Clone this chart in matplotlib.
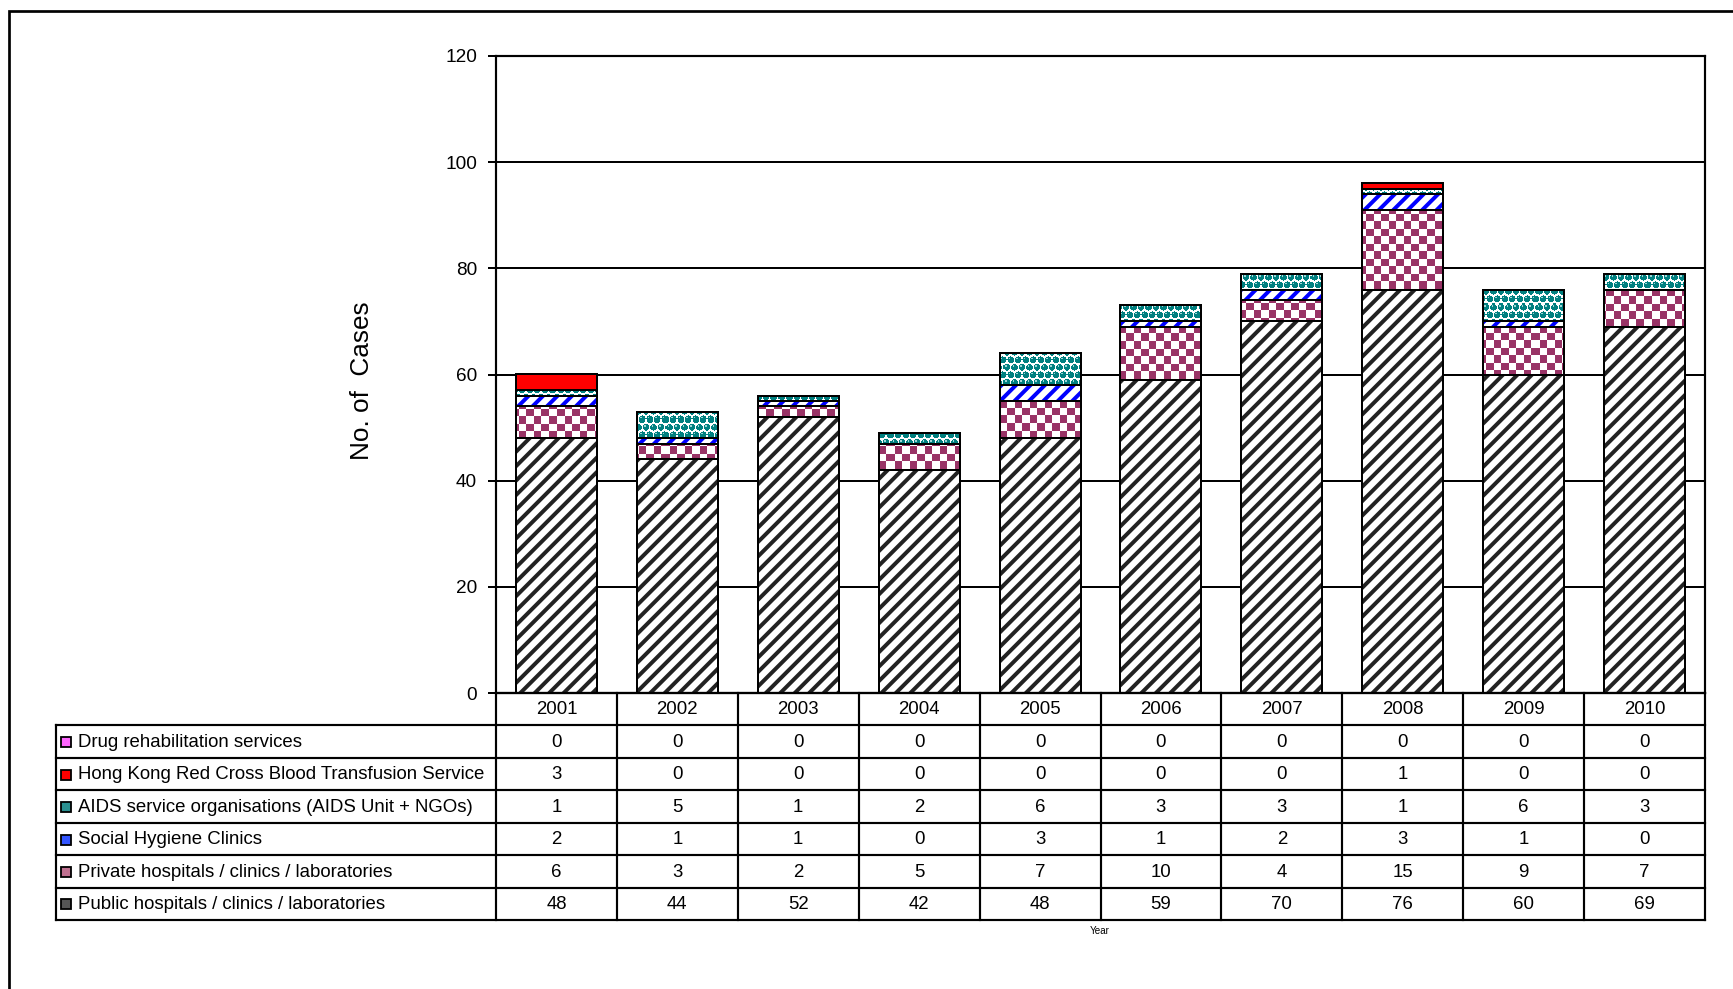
import numpy as np
import matplotlib.pyplot as plt
from matplotlib.colors import to_rgb
from matplotlib.patches import Rectangle

years = ['2001', '2002', '2003', '2004', '2005', '2006', '2007', '2008', '2009', '2010']
public = [48, 44, 52, 42, 48, 59, 70, 76, 60, 69]
private = [6, 3, 2, 5, 7, 10, 4, 15, 9, 7]
social_hygiene = [2, 1, 1, 0, 3, 1, 2, 3, 1, 0]
aids_orgs = [1, 5, 1, 2, 6, 3, 3, 1, 6, 3]
red_cross = [3, 0, 0, 0, 0, 0, 0, 1, 0, 0]
drug_rehab = [0, 0, 0, 0, 0, 0, 0, 0, 0, 0]

row_labels = ['Drug rehabilitation services',
              'Hong Kong Red Cross Blood Transfusion Service',
              'AIDS service organisations (AIDS Unit + NGOs)',
              'Social Hygiene Clinics',
              'Private hospitals / clinics / laboratories',
              'Public hospitals / clinics / laboratories']
row_values = [drug_rehab, red_cross, aids_orgs, social_hygiene, private, public]

plt.rcParams['font.family'] = ['Liberation Sans', 'DejaVu Sans']
plt.rcParams['hatch.linewidth'] = 2.2

W, H, DPI = 1733, 989, 130
fig = plt.figure(figsize=(W / DPI, H / DPI), dpi=DPI)


def px_box(l, t, r, b):
    return [l / W, 1 - b / H, (r - l) / W, (b - t) / H]


AX_L, AX_T, AX_R, AX_B = 496, 56, 1705, 693
ax = fig.add_axes(px_box(AX_L, AX_T, AX_R, AX_B))
ih, iw = AX_B - AX_T, AX_R - AX_L


# texture images for the patterned series
def checker(c1, c2, cell=7.5):
    yy, xx = np.mgrid[0:ih, 0:iw]
    m = ((yy // cell + xx // cell) % 2).astype(bool)
    img = np.empty((ih, iw, 3))
    img[:] = to_rgb(c2)
    img[m] = to_rgb(c1)
    return img


def bubbles(c, period=7.5, r=3.3):
    yy, xx = np.mgrid[0:ih, 0:iw] + 0.5
    row = np.floor(yy / period)
    xs = xx + (row % 2) * period / 2
    dx = (xs % period) - period / 2
    dy = (yy % period) - period / 2
    img = np.ones((ih, iw, 3))
    img[np.hypot(dx, dy) < r] = to_rgb(c)
    img[np.hypot(dx + 1.2, dy + 1.2) < 0.9] = to_rgb('#9fd6d6')
    return img


checker_img = checker('#993366', 'white')
bubble_img = bubbles('#008080')

x = np.arange(len(years))
bw = 0.67
bottom = np.zeros(len(years))

series = [
    (public, 'hatch', '#222222'),
    (private, 'image', checker_img),
    (social_hygiene, 'hatch', '#0000ff'),
    (aids_orgs, 'image', bubble_img),
    (red_cross, 'solid', '#ff0000'),
    (drug_rehab, 'solid', '#ff00ff'),
]

for vals, kind, style in series:
    vals = np.array(vals, dtype=float)
    m = vals > 0
    if m.any():
        if kind == 'hatch':
            ax.bar(x[m], vals[m], bw, bottom=bottom[m], facecolor='white',
                   edgecolor=style, linewidth=0, hatch='///', zorder=2)
        elif kind == 'image':
            bars = ax.bar(x[m], vals[m], bw, bottom=bottom[m], facecolor='white',
                          linewidth=0, zorder=2)
            for rect in bars:
                im = ax.imshow(style, extent=(-0.5, 9.5, 0, 120), aspect='auto',
                               interpolation='nearest', zorder=2.5)
                im.set_clip_path(rect)
        fc = style if kind == 'solid' else 'none'
        ax.bar(x[m], vals[m], bw, bottom=bottom[m], facecolor=fc,
               edgecolor='black', linewidth=1.1, zorder=3)
    bottom += vals

ax.set_xlim(-0.5, 9.5)
ax.set_ylim(0, 120)
ax.set_aspect('auto')
ax.set_xticks([])
ax.set_yticks(range(0, 121, 20))
ax.tick_params(axis='y', length=4.4, width=1.1, pad=6, labelsize=10.5)
ax.set_axisbelow(True)
ax.yaxis.grid(True, color='black', linewidth=1.1)
for s in ax.spines.values():
    s.set_linewidth(1.2)

fig.text(362 / W, 1 - 381 / H, 'No. of  Cases', rotation=90, fontsize=14.5,
         ha='center', va='center')

# data table below the chart
TB_L, TB_B = 56, 920
tax = fig.add_axes(px_box(TB_L, AX_B, AX_R, TB_B))
ppu = iw / 10
tl = -0.5 - (AX_L - TB_L) / ppu
tax.set_xlim(tl, 9.5)
tax.set_ylim(7, 0)
tax.axis('off')

lw = 1.2
tax.plot([-0.5, 9.5], [0, 0], color='black', lw=lw, clip_on=False)
for r in range(1, 8):
    tax.plot([tl, 9.5], [r, r], color='black', lw=lw, clip_on=False)
for k in range(11):
    tax.plot([k - 0.5, k - 0.5], [0, 7], color='black', lw=lw, clip_on=False)
tax.plot([tl, tl], [1, 7], color='black', lw=lw, clip_on=False)

fs = 10.3
for i, yr in enumerate(years):
    tax.text(i, 0.52, yr, ha='center', va='center', fontsize=fs)

icon_colors = ['#ff66ff', '#ff0000', '#2a9090', '#3355ff', '#c07090', '#555555']
iw_u = 10 / ppu
ih_u = 10 / ((TB_B - AX_B) / 7)
for r, (lab, vals) in enumerate(zip(row_labels, row_values)):
    yc = r + 1.52
    tax.add_patch(Rectangle((tl + 5 / ppu, yc - ih_u / 2), iw_u, ih_u,
                            edgecolor='black', linewidth=1.0,
                            facecolor=icon_colors[r], clip_on=False))
    tax.text(tl + 22 / ppu, yc, lab, ha='left', va='center', fontsize=fs)
    for i, v in enumerate(vals):
        tax.text(i, yc, str(v), ha='center', va='center', fontsize=fs)

fig.text(1100 / W, 1 - 931 / H, 'Year', fontsize=5.5, ha='center', va='center')

# outer frame
fig.patches.append(Rectangle((8.5 / W, -0.05), 1.1, 1 + 0.05 - 11 / H,
                             transform=fig.transFigure, fill=False,
                             edgecolor='black', linewidth=1.5))

fig.savefig('out.png', dpi=DPI)
